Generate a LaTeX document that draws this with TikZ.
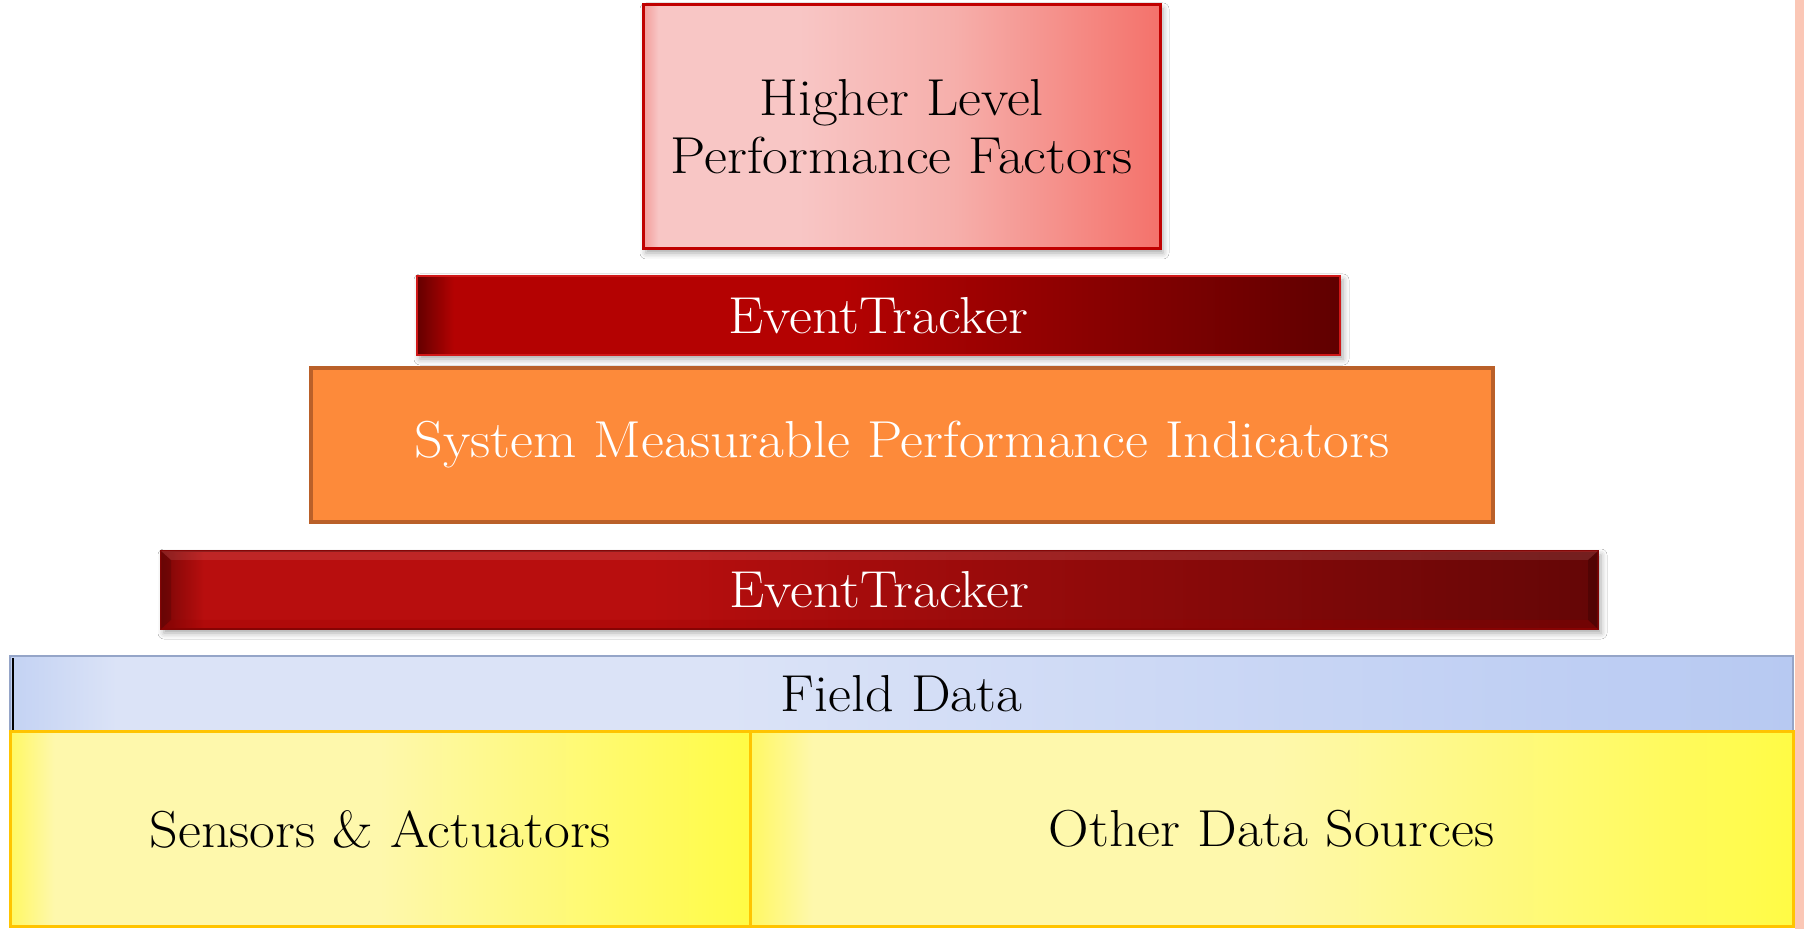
\documentclass[tikz,border=0pt]{standalone}
\usepackage{fontspec}
\setmainfont{Latin Modern Roman}[FakeStretch=1.08]
\usetikzlibrary{calc,shadows.blur}

% palette
\definecolor{hlEdge}{HTML}{F29A98}
\definecolor{hlLight}{HTML}{F8C6C5}
\definecolor{hlMid}{HTML}{F6AFAB}
\definecolor{hlDark}{HTML}{F4726B}
\definecolor{hlBorder}{HTML}{C00000}
\definecolor{etEdge}{HTML}{640000}
\definecolor{etRed}{HTML}{B40202}
\definecolor{etDark}{HTML}{600000}
\definecolor{etBorder}{HTML}{D01818}
\definecolor{etbEdge}{HTML}{7A0606}
\definecolor{etbRed}{HTML}{B80E0E}
\definecolor{etbDark}{HTML}{640606}
\definecolor{smFill}{HTML}{FD8A3A}
\definecolor{smBorder}{HTML}{BA6029}
\definecolor{fdEdge}{HTML}{C3D2F3}
\definecolor{fdLight}{HTML}{DBE3F7}
\definecolor{fdDark}{HTML}{B7C9F2}
\definecolor{fdBorder}{HTML}{95A5C8}
\definecolor{yEdge}{HTML}{FFF862}
\definecolor{yLight}{HTML}{FEF8AC}
\definecolor{yBright}{HTML}{FFFB45}
\definecolor{yBorder}{HTML}{FFC400}
\definecolor{sideStrip}{HTML}{FBC7B6}

% horizontal shadings; the shaded box spans 25bp..75bp
\pgfdeclarehorizontalshading{hlshade}{100bp}{color(0bp)=(hlEdge); color(25bp)=(hlEdge); color(26.5bp)=(hlLight); color(40bp)=(hlLight); color(55bp)=(hlMid); color(75bp)=(hlDark); color(100bp)=(hlDark)}
\pgfdeclarehorizontalshading{etshade}{100bp}{color(0bp)=(etEdge); color(25bp)=(etEdge); color(27bp)=(etRed); color(48bp)=(etRed); color(75bp)=(etDark); color(100bp)=(etDark)}
\pgfdeclarehorizontalshading{etbshade}{100bp}{color(0bp)=(etbEdge); color(25bp)=(etbEdge); color(26.5bp)=(etbRed); color(42bp)=(etbRed); color(75bp)=(etbDark); color(100bp)=(etbDark)}
\pgfdeclarehorizontalshading{fdshade}{100bp}{color(0bp)=(fdEdge); color(25bp)=(fdEdge); color(28bp)=(fdLight); color(45bp)=(fdLight); color(75bp)=(fdDark); color(100bp)=(fdDark)}
\pgfdeclarehorizontalshading{yshade}{100bp}{color(0bp)=(yEdge); color(25bp)=(yEdge); color(28bp)=(yLight); color(50bp)=(yLight); color(75bp)=(yBright); color(100bp)=(yBright)}

\tikzset{
  layer/.style={rectangle, inner sep=0pt, outer sep=0pt, align=center,
    font=\fontsize{26}{29}\selectfont},
  softshadow/.style={blur shadow={shadow xshift=1.5pt, shadow yshift=-2pt,
    shadow blur radius=3pt, shadow opacity=35}},
  factorbox/.style={layer, shading=hlshade, draw=hlBorder, line width=1.5pt,
    softshadow, text=black},
  trackerbox/.style={layer, shading=etshade, draw=etBorder, line width=1pt,
    softshadow, text=white},
  trackerwide/.style={layer, shading=etbshade, draw=etbDark!80!red, line width=0.6pt,
    softshadow, text=white},
  indicatorbox/.style={layer, fill=smFill, draw=smBorder, line width=2pt, text=white},
  fieldbox/.style={layer, shading=fdshade, draw=fdBorder, line width=1pt, text=black},
  sourcebox/.style={layer, shading=yshade, draw=yBorder, line width=1.5pt, text=black},
}

\begin{document}
\begin{tikzpicture}[x=0.5pt,y=-0.5pt]
  \useasboundingbox[fill=white] (0,0) rectangle (1804,929);
  % thin salmon strip along the right border
  \fill[sideStrip] (1795,0) rectangle (1804,929);

  \node[factorbox, minimum width=258.5pt, minimum height=122pt] (hlpf) at (901.5,127)
    {Higher Level\\Performance Factors};

  \node[trackerbox, minimum width=461.5pt, minimum height=39.5pt] (et1) at (878.5,315.5)
    {EventTracker};

  \node[indicatorbox, minimum width=591pt, minimum height=77pt] (smpi) at (902,445)
    {System Measurable Performance Indicators};

  \node[trackerwide, minimum width=718.5pt, minimum height=39pt] (et2) at (879.5,590)
    {};
  % bevel facets of the lower tracker bar
  \fill[white, opacity=0.10] (et2.north west) -- (et2.north east)
    -- ($(et2.north east)+(-10,9)$) -- ($(et2.north west)+(10,9)$) -- cycle;
  \fill[black, opacity=0.18] (et2.north east) -- (et2.south east)
    -- ($(et2.south east)+(-10,-9)$) -- ($(et2.north east)+(-10,9)$) -- cycle;
  \fill[black, opacity=0.15] (et2.north west) -- (et2.south west)
    -- ($(et2.south west)+(10,-9)$) -- ($(et2.north west)+(10,9)$) -- cycle;
  \fill[red!60!black, opacity=0.25] (et2.south west) -- (et2.south east)
    -- ($(et2.south east)+(-10,-9)$) -- ($(et2.south west)+(10,-9)$) -- cycle;
  \node[layer, text=white] (et2label) at (et2.center) {EventTracker};

  \node[fieldbox, minimum width=891.5pt, minimum height=38pt] (fd) at (901.5,694)
    {Field Data};
  \draw[black, line width=1pt] ($(fd.north west)+(3,2)$) -- ($(fd.south west)+(3,0)$);

  \node[sourcebox, minimum width=370pt, minimum height=97pt] (sa) at (380,829)
    {Sensors \& Actuators};
  \node[sourcebox, minimum width=521.5pt, minimum height=97pt] (ods) at (1271.5,829)
    {Other Data Sources};
\end{tikzpicture}
\end{document}
